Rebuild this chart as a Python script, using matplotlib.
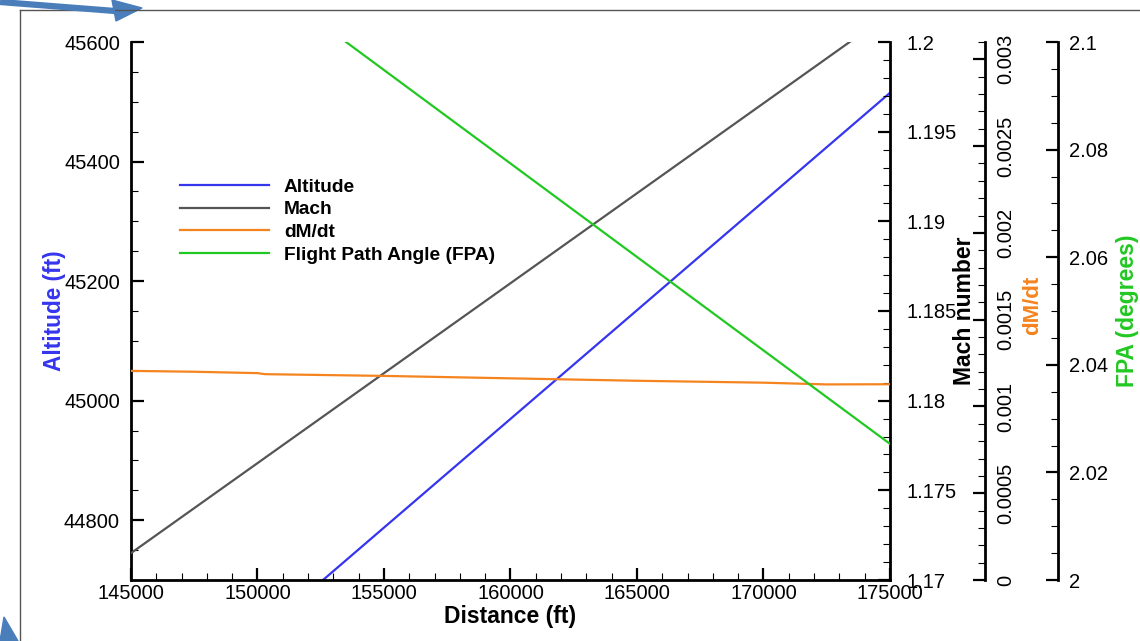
import matplotlib.pyplot as plt
import matplotlib.ticker as mticker
from matplotlib.patches import Polygon
from matplotlib.lines import Line2D

plt.rcParams['font.family'] = ['Liberation Sans', 'DejaVu Sans']

# data
dist_lin = [145000, 175000]
altitude = [44424, 45515]
mach = [1.1715, 1.2016]

fpa_dist = [153500, 175000]
fpa = [2.1, 2.0253]

dmdt_dist = [145000, 147500, 150000, 150300, 155000, 160000, 165000, 170000, 172500, 175000]
dmdt = [1.205e-3, 1.200e-3, 1.192e-3, 1.186e-3, 1.176e-3, 1.162e-3, 1.148e-3, 1.137e-3, 1.127e-3, 1.128e-3]

c_alt = '#3535ee'
c_mach = '#555555'
c_dmdt = '#f5841f'
c_fpa = '#22c822'

W, H = 1140, 641
fig = plt.figure(figsize=(W / 100, H / 100), dpi=100)
ax = fig.add_axes([131 / W, 1 - 580 / H, (890 - 131) / W, (580 - 42) / H])

ax_m = ax.twinx()
ax_d = ax.twinx()
ax_f = ax.twinx()

l1, = ax.plot(dist_lin, altitude, color=c_alt, lw=1.6, label='Altitude')
l2, = ax_m.plot(dist_lin, mach, color=c_mach, lw=1.6, label='Mach')
l3, = ax_d.plot(dmdt_dist, dmdt, color=c_dmdt, lw=1.6, label='dM/dt')
l4, = ax_f.plot(fpa_dist, fpa, color=c_fpa, lw=1.6, label='Flight Path Angle (FPA)')

ax.set_xlim(145000, 175000)
ax.set_ylim(44700, 45600)
ax_m.set_ylim(1.17, 1.2)
ax_d.set_ylim(0, 0.0031)
ax_f.set_ylim(2.0, 2.1)

fmt = mticker.FuncFormatter(lambda v, p: f'{v:g}')
ax.xaxis.set_major_locator(mticker.MultipleLocator(5000))
ax.xaxis.set_minor_locator(mticker.MultipleLocator(1000))
ax.yaxis.set_major_locator(mticker.MultipleLocator(200))
ax.yaxis.set_minor_locator(mticker.MultipleLocator(50))
ax_m.yaxis.set_major_locator(mticker.MultipleLocator(0.005))
ax_m.yaxis.set_minor_locator(mticker.MultipleLocator(0.001))
ax_m.yaxis.set_major_formatter(fmt)
ax_d.yaxis.set_major_locator(mticker.MultipleLocator(0.0005))
ax_d.yaxis.set_minor_locator(mticker.MultipleLocator(0.0001))
ax_d.yaxis.set_major_formatter(fmt)
ax_f.yaxis.set_major_locator(mticker.MultipleLocator(0.02))
ax_f.yaxis.set_minor_locator(mticker.MultipleLocator(0.005))
ax_f.yaxis.set_major_formatter(fmt)

for s in ['top', 'right']:
    ax.spines[s].set_visible(False)
for a in [ax_m, ax_d, ax_f]:
    for s in ['top', 'left', 'bottom']:
        a.spines[s].set_visible(False)
ax_d.spines['right'].set_position(('axes', 1.125))
ax_f.spines['right'].set_position(('axes', 1.2213))

for a in [ax, ax_m, ax_d, ax_f]:
    for sp in a.spines.values():
        sp.set_linewidth(2)
    a.tick_params(which='major', direction='in', length=9, width=1.6, labelsize=14.5, pad=8)
    a.tick_params(which='minor', direction='in', length=5, width=0.8)
ax.tick_params(axis='x', pad=3)
ax_m.tick_params(axis='y', pad=12)
ax_d.tick_params(axis='y', labelrotation=90, pad=8)
for t in ax_d.get_yticklabels():
    t.set_va('center')

ax.set_xlabel('Distance (ft)', fontsize=16.5, fontweight='bold')
ax.xaxis.set_label_coords(0.5, -0.047)
ax.set_ylabel('Altitude (ft)', fontsize=16.3, fontweight='bold', color=c_alt)
ax.yaxis.set_label_coords(-0.086, 0.5)
ax_m.set_ylabel('Mach number', fontsize=16.5, fontweight='bold')
ax_m.yaxis.set_label_coords(1.083, 0.5)
ax_d.set_ylabel('dM/dt', fontsize=16, fontweight='bold', color=c_dmdt)
ax_d.yaxis.set_label_coords(1.174, 0.51)
ax_f.set_ylabel('FPA (degrees)', fontsize=16.5, fontweight='bold', color=c_fpa)
ax_f.yaxis.set_label_coords(1.298, 0.5)

ax.legend([l1, l2, l3, l4], [l.get_label() for l in [l1, l2, l3, l4]],
          loc='upper left', bbox_to_anchor=(0.065, 0.747), frameon=False,
          prop={'weight': 'bold', 'size': 13.8}, handlelength=4.6,
          handletextpad=0.8, labelspacing=0.28, borderpad=0, borderaxespad=0)

# slide decorations: frame and blue arrows
fig.add_artist(Line2D([20 / W, 1], [1 - 10 / H, 1 - 10 / H], transform=fig.transFigure,
                      color='#555555', lw=1))
fig.add_artist(Line2D([20 / W, 20 / W], [0, 1 - 10 / H], transform=fig.transFigure,
                      color='#555555', lw=1))
fig.add_artist(Line2D([0, 115 / W], [1 - 2 / H, 1 - 11 / H], transform=fig.transFigure,
                      color='#4a7ebb', lw=4.5, solid_capstyle='butt'))
fig.add_artist(Polygon([[112 / W, 1 - 0 / H], [142 / W, 1 - 8 / H], [116 / W, 1 - 21 / H]],
                       closed=True, transform=fig.transFigure, color='#4a7ebb'))
fig.add_artist(Polygon([[0, 0], [4 / W, 1 - 617 / H], [18 / W, 0]],
                       closed=True, transform=fig.transFigure, color='#4a7ebb'))

fig.savefig('out.png', dpi=100)
